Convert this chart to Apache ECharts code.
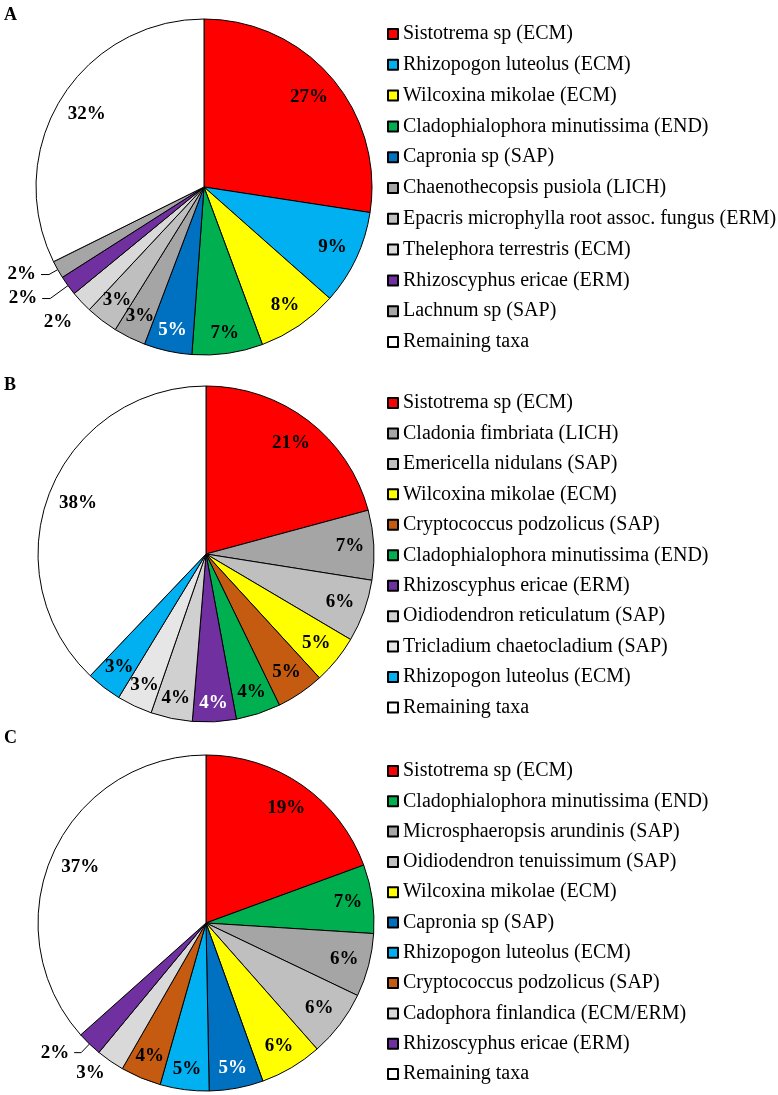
<!DOCTYPE html>
<html>
<head>
<meta charset="utf-8">
<script src="https://cdn.jsdelivr.net/npm/echarts@6/dist/echarts.min.js"></script>
<style>
html,body{margin:0;padding:0;background:#fff;}
#chart{width:778px;height:1095px;}
</style>
</head>
<body>
<div id="chart"></div>
<script>
// ---- Data (percent of sequences) ----
const panelLetters = ['A', 'B', 'C'];

const namesA = ['Sistotrema sp (ECM)', 'Rhizopogon luteolus (ECM)', 'Wilcoxina mikolae (ECM)',
  'Cladophialophora minutissima (END)', 'Capronia sp (SAP)', 'Chaenothecopsis pusiola (LICH)',
  'Epacris microphylla root assoc. fungus (ERM)', 'Thelephora terrestris (ECM)',
  'Rhizoscyphus ericae (ERM)', 'Lachnum sp (SAP)', 'Remaining taxa'];
const valuesA = [27.4, 9.1, 7.8, 6.8, 4.6, 3.1, 3.1, 2.1, 1.9, 1.7, 32.3];

const namesB = ['Sistotrema sp (ECM)', 'Cladonia fimbriata (LICH)', 'Emericella nidulans (SAP)',
  'Wilcoxina mikolae (ECM)', 'Cryptococcus podzolicus (SAP)', 'Cladophialophora minutissima (END)',
  'Rhizoscyphus ericae (ERM)', 'Oidiodendron reticulatum (SAP)', 'Tricladium chaetocladium (SAP)',
  'Rhizopogon luteolus (ECM)', 'Remaining taxa'];
const valuesB = [20.8, 6.7, 6.0, 4.7, 4.6, 4.3, 4.2, 4.0, 3.4, 3.4, 37.9];

const namesC = ['Sistotrema sp (ECM)', 'Cladophialophora minutissima (END)', 'Microsphaeropsis arundinis (SAP)',
  'Oidiodendron tenuissimum (SAP)', 'Wilcoxina mikolae (ECM)', 'Capronia sp (SAP)',
  'Rhizopogon luteolus (ECM)', 'Cryptococcus podzolicus (SAP)', 'Cadophora finlandica (ECM/ERM)',
  'Rhizoscyphus ericae (ERM)', 'Remaining taxa'];
const valuesC = [19.4, 6.6, 6.1, 6.4, 6.0, 5.2, 4.7, 3.9, 2.7, 2.4, 36.6];

// ---- Styles ----
const taxonColors = {
  'Sistotrema sp (ECM)': '#FF0000',
  'Rhizopogon luteolus (ECM)': '#00B0F0',
  'Wilcoxina mikolae (ECM)': '#FFFF00',
  'Cladophialophora minutissima (END)': '#00B050',
  'Capronia sp (SAP)': '#0070C0',
  'Chaenothecopsis pusiola (LICH)': '#A5A5A5',
  'Epacris microphylla root assoc. fungus (ERM)': '#BFBFBF',
  'Thelephora terrestris (ECM)': '#D9D9D9',
  'Rhizoscyphus ericae (ERM)': '#7030A0',
  'Lachnum sp (SAP)': '#A5A5A5',
  'Cladonia fimbriata (LICH)': '#A5A5A5',
  'Emericella nidulans (SAP)': '#BFBFBF',
  'Cryptococcus podzolicus (SAP)': '#C55A11',
  'Oidiodendron reticulatum (SAP)': '#D0D0D0',
  'Tricladium chaetocladium (SAP)': '#E6E6E6',
  'Microsphaeropsis arundinis (SAP)': '#A5A5A5',
  'Oidiodendron tenuissimum (SAP)': '#BFBFBF',
  'Cadophora finlandica (ECM/ERM)': '#D9D9D9',
  'Remaining taxa': '#FFFFFF'
};
const whiteLabelTaxa = ['Capronia sp (SAP)', 'Rhizoscyphus ericae (ERM)'];
const serif = "'Liberation Serif', 'Times New Roman', serif";
const R = 168;        // pie radius
const LABEL_R = 143;  // anchor ring for inside labels
const RIM_INSET = 9;  // gap between label box and rim

// outside label settings per panel: index -> {length, length2, line, dist}
const outside = [
  {7: {length: 29, length2: 0, line: false, dist: -12}, 8: {length: 22, length2: 8, line: true, dist: 5}, 9: {length: 10, length2: 8, line: true, dist: 5}},
  {},
  {8: {length: 15, length2: 0, line: false, dist: -3}, 9: {length: 12, length2: 7, line: true, dist: 5}}
];
const panels = [
  {names: namesA, values: valuesA, center: [204, 187], legendTop: 24, gap: 10.8, letterTop: 6},
  {names: namesB, values: valuesB, center: [206, 554], legendTop: 393, gap: 10.45, letterTop: 376},
  {names: namesC, values: valuesC, center: [206, 923], legendTop: 761, gap: 10.3, letterTop: 729}
];

const labelFont = {fontFamily: serif, fontWeight: 'bold', fontSize: 19};
const series = [];
const legends = [];
const titles = [];

function makeInsideLayout(center) {
  // move each label inward along its radial direction so its box sits just inside the rim
  return function (params) {
    const r = params.labelRect;
    let ax;
    if (params.align === 'right') ax = r.x + r.width;
    else if (params.align === 'left') ax = r.x;
    else ax = r.x + r.width / 2;
    const ay = r.y + r.height / 2;
    const vx = ax - center[0], vy = ay - center[1];
    const len = Math.sqrt(vx * vx + vy * vy) || 1;
    const ux = vx / len, uy = vy / len;
    const extent = Math.abs(ux) * r.width / 2 + Math.abs(uy) * r.height / 2;
    const d = R - RIM_INSET - extent;
    return {
      x: center[0] + ux * d,
      y: center[1] + uy * d,
      align: 'center',
      verticalAlign: 'middle',
      hideOverlap: false
    };
  };
}

panels.forEach(function (p, pi) {
  const out = outside[pi];
  series.push({
    type: 'pie',
    radius: [0, R],
    center: p.center,
    startAngle: 90,
    clockwise: true,
    avoidLabelOverlap: false,
    silent: true,
    animation: false,
    itemStyle: {borderColor: '#000', borderWidth: 1},
    label: {show: false},
    labelLine: {show: false},
    labelLayout: {hideOverlap: false},
    emphasis: {disabled: true},
    data: p.names.map(function (n, i) {
      const item = {name: n, value: p.values[i], itemStyle: {color: taxonColors[n]}};
      if (out[i]) {
        const o = out[i];
        item.label = Object.assign({
          show: true, position: 'outside', color: '#000',
          distanceToLabelLine: o.dist,
          formatter: Math.round(p.values[i]) + '%'
        }, labelFont);
        item.labelLine = {show: o.line, length: o.length, length2: o.length2, lineStyle: {color: '#000', width: 1}};
      }
      return item;
    })
  });
  // invisible pie of radius LABEL_R: its rim anchors the inside labels
  series.push({
    type: 'pie',
    radius: [0, LABEL_R],
    center: p.center,
    startAngle: 90,
    clockwise: true,
    avoidLabelOverlap: false,
    silent: true,
    animation: false,
    z: 5,
    itemStyle: {color: 'rgba(0,0,0,0)', borderWidth: 0},
    labelLine: {show: false, length: 0, length2: 0},
    labelLayout: makeInsideLayout(p.center),
    emphasis: {disabled: true},
    data: p.values.map(function (v, i) {
      const n = p.names[i];
      return {
        value: v,
        name: '',
        label: Object.assign({
          show: !out[i],
          position: 'outside',
          distanceToLabelLine: 0,
          color: whiteLabelTaxa.indexOf(n) >= 0 ? '#FFFFFF' : '#000000',
          formatter: Math.round(v) + '%'
        }, labelFont)
      };
    })
  });
  legends.push({
    data: p.names,
    orient: 'vertical',
    left: 387,
    top: p.legendTop,
    icon: 'rect',
    itemWidth: 10,
    itemHeight: 10,
    itemGap: p.gap,
    selectedMode: false,
    padding: 0,
    textStyle: {fontFamily: serif, fontSize: 20, lineHeight: 20, color: '#000'}
  });
  titles.push({
    text: panelLetters[pi],
    left: 4,
    top: p.letterTop,
    padding: 0,
    textStyle: {fontFamily: serif, fontWeight: 'bold', fontSize: 18, color: '#000'}
  });
});

const chart = echarts.init(document.getElementById('chart'), null, {renderer: 'canvas'});
chart.setOption({
  backgroundColor: '#FFFFFF',
  animation: false,
  title: titles,
  legend: legends,
  series: series
});
</script>
</body>
</html>
